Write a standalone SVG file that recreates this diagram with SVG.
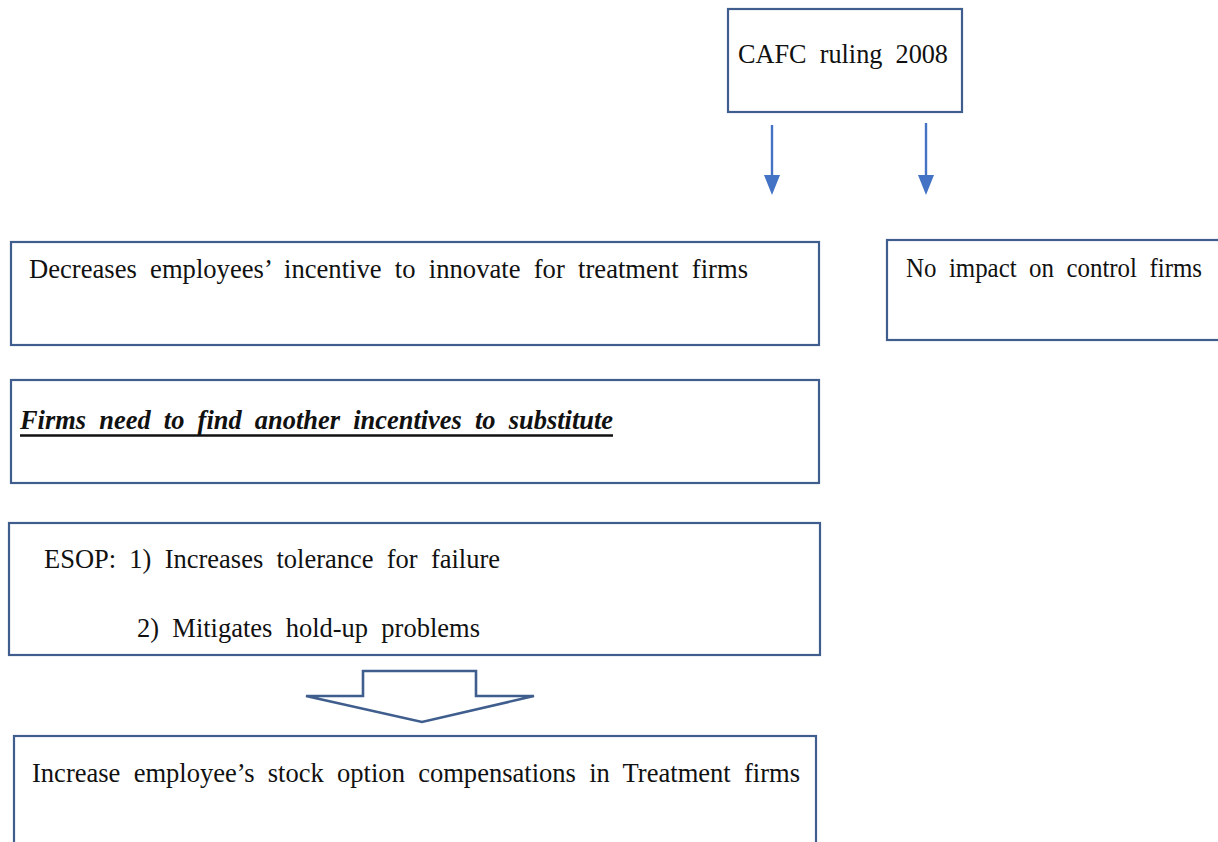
<svg xmlns="http://www.w3.org/2000/svg" width="1218" height="842" viewBox="0 0 1218 842">
  <style>
    .box { fill: #ffffff; stroke: #3f5e8e; stroke-width: 2.2; }
    .t { font-family: "Liberation Serif", "Times New Roman", serif; font-size: 28px; fill: #111111; word-spacing: 7px; }
    .conn { stroke: #4472c4; stroke-width: 2.4; fill: none; }
    .head { fill: #4472c4; }
    .block { fill: #ffffff; stroke: #3f5e8e; stroke-width: 2.6; stroke-linejoin: miter; }
  </style>
  <rect width="1218" height="842" fill="#ffffff"/>
  <g id="n-cafc">
    <rect class="box" x="728" y="9" width="234" height="103"/>
    <text class="t" x="738" y="63" font-size="31" textLength="210" lengthAdjust="spacingAndGlyphs">CAFC ruling 2008</text>
  </g>
  <g id="connectors">
    <line class="conn" x1="772" y1="125" x2="772" y2="178"/>
    <polygon class="head" points="764,175 780,175 772,195"/>
    <line class="conn" x1="926" y1="123" x2="926" y2="178"/>
    <polygon class="head" points="918,175 934,175 926,195"/>
    <polygon class="block" points="363,671 476,671 476,696 534,696 422,722 306,696 363,696"/>
  </g>
  <g id="n-decreases">
    <rect class="box" x="11" y="242" width="808" height="103"/>
    <text class="t" x="29" y="278" textLength="719" lengthAdjust="spacingAndGlyphs">Decreases employees’ incentive to innovate for treatment firms</text>
  </g>
  <g id="n-noimpact">
    <rect class="box" x="887" y="240" width="340" height="100"/>
    <text class="t" x="906" y="277" word-spacing="5" textLength="296" lengthAdjust="spacingAndGlyphs">No impact on control firms</text>
  </g>
  <g id="n-firms">
    <rect class="box" x="11" y="380" width="808" height="103"/>
    <text class="t" x="20" y="429" font-weight="bold" font-style="italic" textLength="593" lengthAdjust="spacingAndGlyphs">Firms need to find another incentives to substitute</text>
    <line x1="20" y1="435.5" x2="613" y2="435.5" stroke="#111111" stroke-width="2.5"/>
  </g>
  <g id="n-esop">
    <rect class="box" x="9" y="523" width="811" height="132"/>
    <text class="t" x="44" y="568" textLength="456" lengthAdjust="spacingAndGlyphs">ESOP: 1) Increases tolerance for failure</text>
    <text class="t" x="137" y="637" textLength="343" lengthAdjust="spacingAndGlyphs">2) Mitigates hold-up problems</text>
  </g>
  <g id="n-increase">
    <rect class="box" x="14" y="736" width="802" height="120"/>
    <text class="t" x="32" y="782" textLength="768" lengthAdjust="spacingAndGlyphs">Increase employee’s stock option compensations in Treatment firms</text>
  </g>
</svg>
